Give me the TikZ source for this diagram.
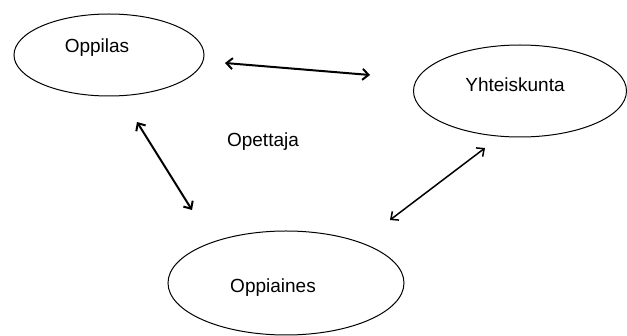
\documentclass[tikz,border=0pt]{standalone}
\usepackage{fontspec}
\setmainfont{Liberation Sans}
\usetikzlibrary{shapes.geometric,arrows.meta}
\tikzset{
  oval/.style={draw=black, line width=1pt, ellipse, inner sep=0pt},
  lbl/.style={font=\fontsize{19}{21}\selectfont, inner sep=0pt},
  conn/.style={line width=2pt, {Straight Barb[length=6pt,width=11pt]}-{Straight Barb[length=6pt,width=11pt]}},
  connthin/.style={line width=1.5pt, {Straight Barb[length=6pt,width=11pt]}-{Straight Barb[length=6pt,width=11pt]}}
}
\begin{document}
\begin{tikzpicture}[x=1pt,y=-1pt]
\useasboundingbox (0,0) rectangle (627,336);
\node[oval, minimum width=190pt, minimum height=82pt] (oppilas) at (109,55) {};
\node[oval, minimum width=213pt, minimum height=92pt] (yht) at (520,91) {};
\node[oval, minimum width=236pt, minimum height=104pt] (oppiaines) at (286,283) {};
\node[lbl] (toppilas) at (97,48) {Oppilas};
\node[lbl] (tyht) at (515,85) {Yhteiskunta};
\node[lbl] (toppiaines) at (273,288) {Oppiaines};
\node[lbl] (topettaja) at (263,142) {Opettaja};
\coordinate (a1) at (225,63);
\coordinate (a2) at (370,75);
\coordinate (b1) at (137,122);
\coordinate (b2) at (192,210);
\coordinate (c1) at (390,220);
\coordinate (c2) at (485,148);
\draw[conn] (a1) -- (a2);
\draw[conn] (b1) -- (b2);
\draw[connthin] (c1) -- (c2);
\end{tikzpicture}
\end{document}
